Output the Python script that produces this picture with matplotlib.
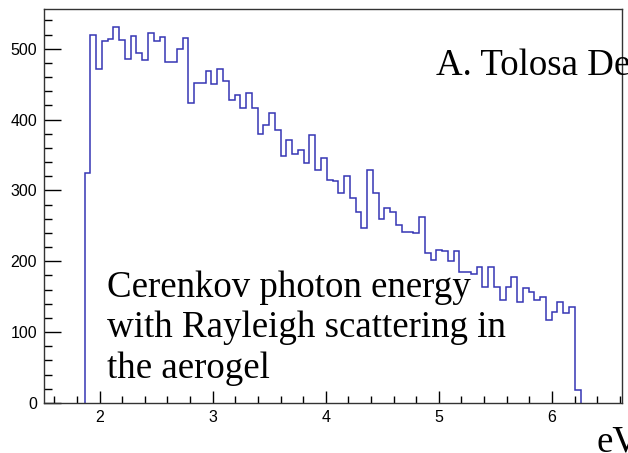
import numpy as np
import matplotlib
matplotlib.use("Agg")
import matplotlib.pyplot as plt
from matplotlib.ticker import MultipleLocator

# Cerenkov photon energy histogram (counts per bin)
counts = [325, 519, 472, 511, 514, 531, 512, 486, 518, 494,
          484, 522, 511, 517, 481, 481, 499, 515, 423, 452,
          452, 469, 450, 472, 454, 427, 435, 417, 437, 416,
          380, 393, 409, 385, 348, 371, 352, 357, 339, 378,
          329, 346, 315, 313, 296, 320, 289, 270, 247, 329,
          296, 260, 275, 270, 251, 241, 241, 240, 262, 211,
          202, 216, 214, 201, 214, 185, 185, 182, 192, 164,
          192, 164, 145, 164, 178, 143, 162, 156, 145, 149,
          117, 129, 143, 127, 135, 18]
bin_lo = 1.867      # eV, lower edge of first filled bin
bin_width = 0.051   # eV
edges = bin_lo + bin_width * np.arange(len(counts) + 1)

x_range = (1.508, 6.62)
y_range = (0, 556)

W, H = 628, 453
fig = plt.figure(figsize=(W / 100, H / 100), dpi=100)
ax = fig.add_axes([44 / W, 1 - 403 / H, (622 - 44) / W, (403 - 9) / H])

ax.stairs(counts, edges, baseline=0, color="#3636b4", lw=1.1)

ax.set_xlim(*x_range)
ax.set_ylim(*y_range)

# ROOT-like axes: ticks inside, only bottom/left
ax.xaxis.set_major_locator(MultipleLocator(1))
ax.xaxis.set_minor_locator(MultipleLocator(0.2))
ax.yaxis.set_major_locator(MultipleLocator(100))
ax.yaxis.set_minor_locator(MultipleLocator(20))
ax.tick_params(axis="x", which="major", direction="in", length=9, width=1, pad=5)
ax.tick_params(axis="x", which="minor", direction="in", length=5, width=1)
ax.tick_params(axis="y", which="major", direction="in", length=12, width=1, pad=5)
ax.tick_params(axis="y", which="minor", direction="in", length=6, width=1)
for lab in ax.get_xticklabels() + ax.get_yticklabels():
    lab.set_family("Liberation Sans")
    lab.set_fontsize(11.5)
for sp in ax.spines.values():
    sp.set_linewidth(1)
    sp.set_color("#333333")

serif = "Liberation Serif"
fs = 26.6
fig.text(436 / W, 1 - 75 / H, "A. Tolosa Delgado", family=serif,
         fontsize=fs, va="baseline", ha="left")
fig.text(597 / W, 1 - 451 / H, "eV", family=serif,
         fontsize=fs, va="baseline", ha="left")

lines = ["Cerenkov photon energy", "with Rayleigh scattering in", "the aerogel"]
baselines = [297, 337, 378]
for txt, yb in zip(lines, baselines):
    fig.text(107 / W, 1 - yb / H, txt, family=serif, fontsize=fs,
             va="baseline", ha="left")

fig.savefig("out.png", dpi=100)
